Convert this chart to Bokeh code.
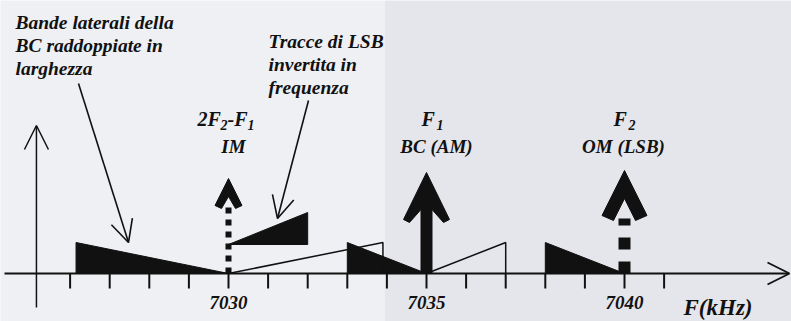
from bokeh.plotting import figure
from bokeh.models import Arrow, OpenHead, BoxAnnotation, Range1d
from bokeh.core.properties import value
from bokeh.embed import file_html
from bokeh.resources import INLINE

# ---------------- data ----------------
tick_freqs = list(range(7026, 7042))          # kHz, small ticks on the frequency axis
tick_label_freqs = [7030, 7035, 7040]
tick_label_texts = ["7030", "7035", "7040"]
origin_freq = 7025.15                          # where the vertical axis crosses

carrier_freqs = [7030, 7035, 7040]             # 2F2-F1, F1, F2
carrier_heights = [95, 101, 103]               # relative amplitude (arbitrary units)
carrier_solid = [False, True, False]

# filled sidebands (frequency, amplitude) polygons
filled_x = [[7026.15, 7026.15, 7030], [7030, 7032, 7032], [7033, 7033, 7035], [7038, 7038, 7040]]
filled_y = [[0, 31, 0], [29, 61, 29], [0, 31, 0], [0, 31, 0]]
# outline (inverted) sidebands
outline_x = [[7030, 7033.9, 7033.9], [7035, 7037, 7037]]
outline_y = [[0, 31, 0], [0, 31, 0]]

block1 = ["Bande laterali della", "BC raddoppiate in", "larghezza"]
block2 = ["Tracce di LSB", "invertita in", "frequenza"]
row2_texts = ["IM", "BC (AM)", "OM (LSB)"]

# ---------------- layout ----------------
W, H = 791, 321
PX = 39.6                      # pixels per kHz
x0 = 7030 - 228 / PX
BASE = 273                     # baseline row in pixels from the top
INK = "#111111"
FONT = value("Liberation Serif")
TSHIFT = 6                     # text baseline correction (px)

p = figure(width=W, height=H, output_backend="svg", toolbar_location=None,
           x_range=Range1d(x0, x0 + W / PX), y_range=Range1d(BASE - H, BASE),
           min_border=0, background_fill_color="#eff0f4", border_fill_color="#eff0f4",
           outline_line_color=None)
p.axis.visible = False
p.grid.visible = False
p.add_layout(BoxAnnotation(left=7033.95, fill_color="#e5e6eb", fill_alpha=1.0, line_color=None, level="underlay"))

def kx(px):
    return px / PX

def fx(img_x):
    return 7030 + (img_x - 228) / PX

def fy(img_y):
    return BASE - img_y

def ty(img_y):
    return BASE - (img_y - TSHIFT)

# axes
p.add_layout(Arrow(x_start=fx(4), y_start=0, x_end=fx(789), y_end=0, line_width=2, line_color=INK,
                   end=OpenHead(size=22, line_width=1.8, line_color=INK)))
p.add_layout(Arrow(x_start=origin_freq, y_start=fy(307), x_end=origin_freq, y_end=fy(125), line_width=1.5,
                   line_color=INK, end=OpenHead(size=24, line_width=1.5, line_color=INK)))
p.segment(x0=tick_freqs, y0=[0] * len(tick_freqs), x1=tick_freqs, y1=[-15] * len(tick_freqs),
          line_width=2, line_color=INK)

# sidebands
p.patches(filled_x, filled_y, fill_color=INK, line_color=INK, line_width=1)
p.multi_line(outline_x, outline_y, line_color=INK, line_width=1.5)

# carriers
for f, h, solid in zip(carrier_freqs, carrier_heights, carrier_solid):
    if solid:
        xs = [0, 23, 17, 5.5, 5.5, -5.5, -5.5, -17, -23]
        ys = [h, h - 47, h - 50, h - 37, 0, 0, h - 37, h - 50, h - 47]
        p.patch([f + kx(v) for v in xs], ys, fill_color=INK, line_color=INK, line_width=1)
    else:
        big = h > 100
        hw, bw, drop, bdrop, notch, sw = ((22.5, 11, 45, 50, 28, 12) if big else (13.5, 7, 27, 30, 18, 6))
        xs = [0, hw, bw, 0, -bw, -hw]
        ys = [h, h - drop, h - bdrop, h - notch, h - bdrop, h - drop]
        p.patch([f + kx(v) for v in xs], ys, fill_color=INK, line_color=INK, line_width=1)
        top = h - bdrop + (2 if big else 3)
        p.segment(x0=[f], y0=[0], x1=[f], y1=[top], line_width=sw, line_color=INK,
                  line_dash=f"{sw} {sw}", line_cap="butt")

TXT = dict(text_font=FONT, text_font_style="bold italic", text_baseline="alphabetic", text_color=INK)

# tick labels
p.text(x=tick_label_freqs, y=[ty(308)] * 3, text=tick_label_texts, text_font_size="19px",
       text_align="center", **TXT)
p.text(x=[fx(683)], y=[ty(313)], text=["F(kHz)"], text_font_size="23px", text_align="left", **TXT)

# carrier labels, first row with subscripts
row1_y = ty(124)
p.text(x=[7030] * 4, y=[row1_y] * 4, text=["2F", "2", "-F", "1"],
       x_offset=[-31, -8, -1, 19], y_offset=[0, 6, 0, 6],
       text_font_size=["20px", "14px", "20px", "14px"], text_align="left", **TXT)
p.text(x=[7035, 7035, 7040, 7040], y=[row1_y] * 4, text=["F", "1", "F", "2"],
       x_offset=[-5, 10, -11, 4], y_offset=[0, 6, 0, 6],
       text_font_size=["20px", "14px", "20px", "14px"], text_align="left", **TXT)
p.text(x=carrier_freqs, y=[ty(152)] * 3, text=row2_texts, x_offset=[5, 10, -1],
       text_font_size="19px", text_align="center", **TXT)

# annotation blocks
p.text(x=[fx(15)] * 3, y=[ty(28), ty(51), ty(74)], text=block1, text_font_size="19.5px", text_align="left", **TXT)
p.text(x=[fx(268)] * 3, y=[ty(47), ty(70), ty(93)], text=block2, text_font_size="19.5px", text_align="left", **TXT)

# pointer arrows
p.add_layout(Arrow(x_start=fx(78), y_start=fy(83), x_end=fx(128), y_end=fy(242),
                   line_width=1.6, line_color=INK, end=OpenHead(size=22, line_width=1.6, line_color=INK)))
p.add_layout(Arrow(x_start=fx(308), y_start=fy(100), x_end=fx(277), y_end=fy(218),
                   line_width=1.6, line_color=INK, end=OpenHead(size=22, line_width=1.6, line_color=INK)))

open("out.html", "w").write(file_html(p, INLINE))
